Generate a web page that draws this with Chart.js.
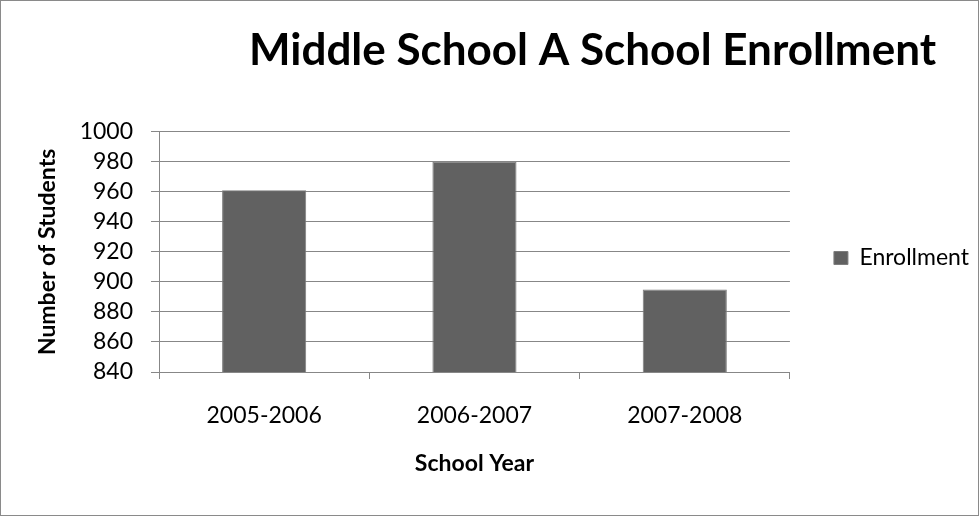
<!DOCTYPE html>
<html>
<head>
<meta charset="utf-8">
<script src="https://cdn.jsdelivr.net/npm/chart.js@4"></script>
<style>
html,body{margin:0;padding:0;background:#fff;}
#wrap{width:979px;height:516px;position:relative;}
</style>
</head>
<body>
<div id="wrap"><canvas id="c" width="979" height="516"></canvas></div>
<script>
// ---- data ----
const categories = ['2005-2006', '2006-2007', '2007-2008'];
const enrollment = [961, 980, 895];
const seriesName = 'Enrollment';
const yTickLabels = ['840', '860', '880', '900', '920', '940', '960', '980', '1000'];
const yMin = 840;
const yMax = 1000;
const yStep = 20;
const chartTitle = 'Middle School A School Enrollment';
const xTitle = 'School Year';
const yTitle = 'Number of Students';

const FONT = 'Lato, "Open Sans", sans-serif';
const GRID = '#878787';

const frame = {
  id: 'frame',
  beforeDraw(chart) {
    const ctx = chart.ctx;
    ctx.save();
    ctx.fillStyle = '#fff';
    ctx.fillRect(0, 0, chart.width, chart.height);
    ctx.strokeStyle = '#8a8a8a';
    ctx.lineWidth = 1;
    ctx.strokeRect(0.5, 0.5, chart.width - 1, chart.height - 1);
    ctx.restore();
  },
  afterLayout(chart) {
    const t = chart.titleBlock;
    if (t) { t.left += 103; t.right += 103; }
  }
};

new Chart(document.getElementById('c'), {
  type: 'bar',
  data: {
    labels: categories,
    datasets: [{
      label: seriesName,
      data: enrollment,
      backgroundColor: '#616161',
      borderColor: '#7d7d7d',
      borderWidth: 1,
      categoryPercentage: 1.0,
      barPercentage: 0.4
    }]
  },
  plugins: [frame],
  options: {
    responsive: false,
    animation: false,
    devicePixelRatio: 1,
    layout: { padding: { left: 0, right: 0, top: 0, bottom: 0 } },
    plugins: {
      tooltip: { enabled: false },
      title: {
        display: true,
        text: chartTitle,
        color: '#000',
        font: { family: FONT, size: 44, weight: 'bold' },
        padding: { top: 24, bottom: 55 }
      },
      legend: {
        position: 'right',
        labels: {
          color: '#000',
          boxWidth: 14,
          boxHeight: 13,
          padding: 44,
          font: { family: FONT, size: 23 }
        }
      }
    },
    scales: {
      x: {
        grid: {
          offset: true,
          drawOnChartArea: false,
          drawTicks: true,
          tickLength: 7,
          color: GRID
        },
        border: { display: true, color: GRID },
        ticks: {
          color: '#000',
          padding: 23,
          font: { family: FONT, size: 23 }
        },
        title: {
          display: true,
          text: xTitle,
          color: '#000',
          font: { family: FONT, size: 23, weight: 'bold' },
          padding: { top: 0, bottom: 39 }
        },
        afterFit(scale) { scale.height = 144; }
      },
      y: {
        min: yMin,
        max: yMax,
        ticks: {
          stepSize: yStep,
          autoSkip: false,
          color: '#000',
          padding: 18,
          font: { family: FONT, size: 23 },
          callback: (value, index) => yTickLabels[index]
        },
        grid: {
          color: GRID,
          tickLength: 8,
          drawTicks: true
        },
        border: { display: true, color: GRID },
        title: {
          display: true,
          text: yTitle,
          color: '#000',
          font: { family: FONT, size: 23, weight: 'bold' },
          padding: { top: 34, bottom: 0 }
        },
        afterFit(scale) { scale.width = 159; }
      }
    }
  }
});
</script>
</body>
</html>
